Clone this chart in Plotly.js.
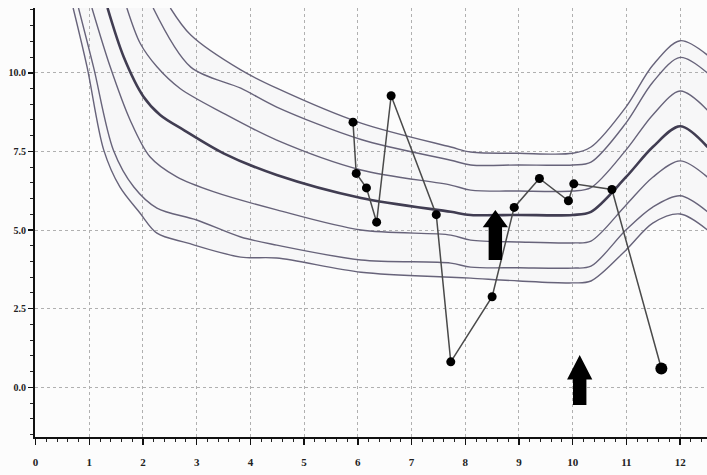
<!DOCTYPE html>
<html>
<head>
<meta charset="utf-8">
<script src="https://cdn.plot.ly/plotly-3.0.1.min.js"></script>
<style>html,body{margin:0;padding:0;background:#fcfcfc;}#chart{width:707px;height:475px;}</style>
</head>
<body>
<div id="chart"></div>
<script>
// Reference percentile curves (P97 ... P3)
const c1x = [2.51, 2.89, 3.82, 4.49, 6.06, 7.73, 8.10, 9.00, 10.00, 10.34, 10.99, 11.49, 12.00, 12.51];
const c1y = [12.06, 11.20, 10.09, 9.51, 8.40, 7.64, 7.48, 7.44, 7.44, 7.64, 8.91, 10.24, 11.02, 10.56];

const c2x = [2.19, 2.89, 3.82, 4.49, 6.06, 7.73, 8.10, 9.00, 10.00, 10.34, 10.99, 11.49, 12.00, 12.51];
const c2y = [12.06, 10.18, 9.51, 8.91, 7.88, 7.22, 7.07, 7.07, 7.07, 7.16, 8.40, 9.70, 10.49, 9.99];

const c3x = [1.70, 1.95, 2.26, 2.69, 3.50, 4.49, 6.06, 7.73, 8.10, 9.00, 10.00, 10.34, 10.99, 11.49, 12.00, 12.51];
const c3y = [12.06, 10.93, 10.19, 9.50, 8.71, 7.86, 6.91, 6.43, 6.27, 6.24, 6.24, 6.35, 7.54, 8.66, 9.42, 8.81];

const c4x = [1.34, 1.64, 2.01, 2.32, 2.76, 3.50, 4.49, 6.06, 7.73, 8.10, 9.00, 10.00, 10.34, 10.99, 11.49, 12.00, 12.51];
const c4y = [12.06, 10.51, 9.24, 8.66, 8.18, 7.44, 6.75, 6.02, 5.58, 5.48, 5.48, 5.48, 5.58, 6.68, 7.64, 8.30, 7.64];

const c5x = [1.05, 1.39, 1.76, 2.13, 2.63, 3.31, 4.49, 6.06, 7.73, 8.10, 9.00, 10.00, 10.34, 10.99, 11.49, 12.00, 12.51];
const c5y = [12.06, 10.19, 8.50, 7.33, 6.69, 6.22, 5.64, 5.00, 4.84, 4.68, 4.62, 4.59, 4.65, 5.79, 6.68, 7.20, 6.68];

const c6x = [0.80, 1.08, 1.45, 1.83, 2.26, 3.00, 3.82, 4.49, 6.06, 7.73, 8.10, 9.00, 10.00, 10.34, 10.99, 11.49, 12.00, 12.51];
const c6y = [12.06, 10.18, 7.54, 6.37, 5.70, 5.32, 4.78, 4.52, 4.05, 3.95, 3.82, 3.80, 3.79, 3.85, 5.00, 5.73, 6.09, 5.58];

const c7x = [0.70, 0.96, 1.27, 1.57, 1.94, 2.26, 2.82, 3.82, 4.49, 6.06, 7.73, 8.10, 9.00, 10.00, 10.34, 10.99, 11.49, 12.00, 12.51];
const c7y = [12.06, 10.18, 7.54, 6.37, 5.55, 4.90, 4.59, 4.14, 4.11, 3.66, 3.50, 3.47, 3.38, 3.32, 3.38, 4.36, 5.22, 5.51, 5.00];

// Patient measurements
const ptX = [5.91, 5.97, 6.16, 6.35, 6.62, 7.46, 7.73, 8.50, 8.91, 9.38, 9.92, 10.02, 10.73, 11.65];
const ptY = [8.43, 6.80, 6.34, 5.25, 9.27, 5.49, 0.81, 2.88, 5.72, 6.64, 5.93, 6.47, 6.29, 0.60];

// Arrow annotations: x centre, tip y, base y
const arrowX = [8.56, 10.13];
const arrowTip = [5.64, 1.03];
const arrowBase = [4.05, -0.56];

// Axis ticks
const xTickVals = [0,1,2,3,4,5,6,7,8,9,10,11,12];
const xTickText = ['0','1','2','3','4','5','6','7','8','9','10','11','12'];
const yTickVals = [0, 2.5, 5, 7.5, 10];
const yTickText = ['0.0','2.5','5.0','7.5','10.0'];

const curveCol = '#67637a';
const medianCol = '#413d52';

function curve(x, y, w, col, extra) {
  return Object.assign({
    x: x, y: y, type: 'scatter', mode: 'lines', hoverinfo: 'skip',
    line: {color: col, width: w, shape: 'spline', smoothing: 0.9}
  }, extra || {});
}

const traces = [
  curve(c7x, c7y, 1.4, curveCol),
  curve(c1x, c1y, 1.4, curveCol, {fill: 'tonexty', fillcolor: 'rgba(150,150,170,0.05)'}),
  curve(c2x, c2y, 1.4, curveCol),
  curve(c3x, c3y, 1.4, curveCol),
  curve(c5x, c5y, 1.4, curveCol),
  curve(c6x, c6y, 1.4, curveCol),
  curve(c4x, c4y, 2.6, medianCol),
  {
    x: ptX, y: ptY, type: 'scatter', mode: 'lines+markers',
    line: {color: '#4a4a4a', width: 1.5},
    marker: {color: '#000', opacity: 1, line: {width: 0},
             size: ptX.map((v, i) => i === ptX.length - 1 ? 12 : 9)}
  }
];

const hw = 0.235, sw = 0.125, headLen = [0.55, 0.78];
const shapes = arrowX.map((x, i) => {
  const yt = arrowTip[i], yb = arrowBase[i], yh = yt - headLen[i];
  return {
    type: 'path', xref: 'x', yref: 'y', fillcolor: '#000', line: {width: 0},
    path: `M ${x-sw},${yb} L ${x-sw},${yh} L ${x-hw},${yh} L ${x},${yt} L ${x+hw},${yh} L ${x+sw},${yh} L ${x+sw},${yb} Z`
  };
});

const tickFont = {family: 'Liberation Serif, DejaVu Serif, serif', size: 11, color: '#222', weight: 'bold'};

const layout = {
  width: 707, height: 475,
  margin: {l: 35, r: 0, t: 8, b: 38},
  paper_bgcolor: '#fcfcfc', plot_bgcolor: '#fcfcfc',
  showlegend: false,
  shapes: shapes,
  xaxis: {
    range: [-0.01, 12.5], tickmode: 'array', tickvals: xTickVals, ticktext: xTickText,
    showline: true, linecolor: '#111', linewidth: 2, zeroline: false,
    ticks: 'outside', ticklen: 6, tickwidth: 1.5, tickcolor: '#111',
    ticklabelstandoff: 8,
    showgrid: true, gridcolor: '#b0b0b0', griddash: 'dot', gridwidth: 1,
    tickfont: tickFont,
    minor: {dtick: 0.2, tick0: 0, ticks: 'outside', ticklen: 3, tickwidth: 1, tickcolor: '#222', showgrid: false}
  },
  yaxis: {
    range: [-1.58, 12.06], tickmode: 'array', tickvals: yTickVals, ticktext: yTickText,
    showline: true, linecolor: '#111', linewidth: 2, zeroline: false,
    ticks: 'outside', ticklen: 5, tickwidth: 1.5, tickcolor: '#111',
    showgrid: true, gridcolor: '#b0b0b0', griddash: 'dot', gridwidth: 1,
    tickfont: Object.assign({}, tickFont, {size: 10}),
    minor: {dtick: 0.5, tick0: 0, ticks: 'outside', ticklen: 3, tickwidth: 1, tickcolor: '#222', showgrid: false}
  }
};

Plotly.newPlot('chart', traces, layout, {staticPlot: true, displayModeBar: false});
</script>
</body>
</html>
